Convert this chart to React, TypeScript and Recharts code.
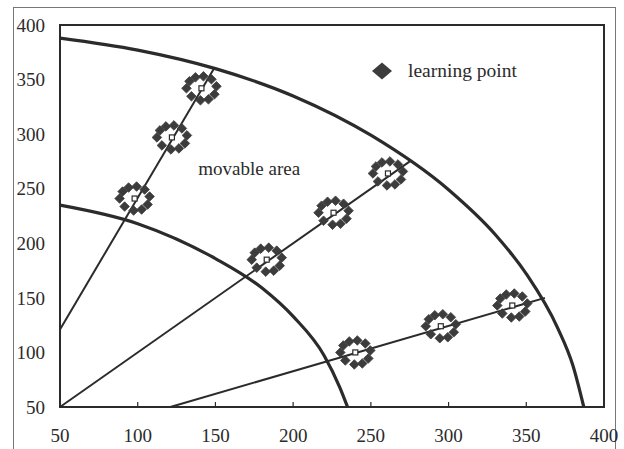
import { ComposedChart, Legend, Line, ReferenceArea, ReferenceDot, Scatter, XAxis, YAxis } from "recharts";

const ticks = [50, 100, 150, 200, 250, 300, 350, 400];

// boundary arcs of the movable area
const outerArc = [
  { x: 50, y: 388 },
  { x: 100, y: 377 },
  { x: 150, y: 360 },
  { x: 200, y: 335 },
  { x: 250, y: 299 },
  { x: 300, y: 249 },
  { x: 330, y: 208 },
  { x: 350, y: 172 },
  { x: 370, y: 123 },
  { x: 380, y: 88 },
  { x: 387, y: 50 }
];

const innerArc = [
  { x: 50, y: 235 },
  { x: 100, y: 218 },
  { x: 150, y: 186 },
  { x: 180, y: 159 },
  { x: 200, y: 133 },
  { x: 220, y: 97 },
  { x: 230, y: 68 },
  { x: 235, y: 50 }
];

const rayUpper = [
  { x: 50, y: 121 },
  { x: 149, y: 360 }
];
const rayMiddle = [
  { x: 50, y: 50 },
  { x: 276, y: 276 }
];
const rayLower = [
  { x: 121, y: 50 },
  { x: 362, y: 150 }
];

const learningPoints = [
  { x: 98, y: 241 },
  { x: 122, y: 297 },
  { x: 141, y: 342 },
  { x: 183, y: 185 },
  { x: 226, y: 228 },
  { x: 261, y: 264 },
  { x: 240, y: 100 },
  { x: 295, y: 124 },
  { x: 341, y: 143 }
];

const areaLabel = { x: 139, y: 263, text: "movable area" };

const ink = "#2b2b2b";
const font = "'Liberation Serif', 'Times New Roman', serif";

const ring = [
  [-15, 0],
  [-12, -7],
  [-6, -11],
  [2, -12],
  [10, -9],
  [15, -2],
  [13, 6],
  [7, 11],
  [-1, 12],
  [-10, 8]
];

function diamond(x: number, y: number, w: number, h: number) {
  return `M${x},${y - h}L${x + w},${y}L${x},${y + h}L${x - w},${y}Z`;
}

function LearningMarker(props: any) {
  const { cx, cy } = props;
  if (cx == null || cy == null) return null;
  return (
    <g>
      {ring.map(([dx, dy], i) => (
        <path key={i} d={diamond(cx + dx, cy + dy, 4.8, 4.8)} fill="#3c3c3c" stroke="#3c3c3c" strokeWidth={0.8} strokeLinejoin="round" />
      ))}
      <rect x={cx - 2.5} y={cy - 2.5} width={5} height={5} fill="#fff" stroke={ink} strokeWidth={1.2} />
    </g>
  );
}

function LegendContent() {
  return (
    <div style={{ display: "flex", alignItems: "center", fontFamily: font, fontSize: 19.5, color: ink }}>
      <svg width={22} height={18} style={{ marginRight: 15 }}>
        <path d={diamond(11, 9, 10, 8.5)} fill="#3c3c3c" />
      </svg>
      <span>learning point</span>
    </div>
  );
}

export default function App() {
  return (
    <div style={{ position: "absolute", left: 0, top: 0, width: 624, height: 449, background: "#fff" }}>
      <div
        style={{
          position: "absolute",
          left: 13,
          top: 7,
          width: 603,
          height: 442,
          borderLeft: "1px solid #777",
          borderTop: "1px solid #777",
          borderRight: "1px solid #777",
          boxSizing: "border-box"
        }}
      />
      <ComposedChart width={624} height={449} margin={{ top: 25, right: 20, bottom: 0, left: 0 }} style={{ position: "absolute", left: 0, top: 0 }}>
        <XAxis
          type="number"
          dataKey="x"
          domain={[50, 400]}
          ticks={ticks}
          height={42}
          axisLine={false}
          tickSize={-5}
          tickMargin={27}
          tickLine={{ stroke: ink, strokeWidth: 1.2 }}
          tick={{ fill: ink, fontSize: 19, fontFamily: font }}
        />
        <YAxis
          type="number"
          dataKey="y"
          domain={[50, 400]}
          ticks={ticks}
          width={60}
          axisLine={false}
          tickLine={false}
          tickSize={0}
          tickMargin={15}
          tick={{ fill: ink, fontSize: 19, fontFamily: font }}
        />
        <ReferenceArea x1={50} x2={400} y1={50} y2={400} fill="none" stroke={ink} strokeWidth={2} />
        <Line data={innerArc} dataKey="y" type="monotone" stroke={ink} strokeWidth={3.2} dot={false} activeDot={false} isAnimationActive={false} legendType="none" />
        <Line data={outerArc} dataKey="y" type="monotone" stroke={ink} strokeWidth={3.2} dot={false} activeDot={false} isAnimationActive={false} legendType="none" />
        <Line data={rayUpper} dataKey="y" type="linear" stroke={ink} strokeWidth={2} dot={false} activeDot={false} isAnimationActive={false} legendType="none" />
        <Line data={rayMiddle} dataKey="y" type="linear" stroke={ink} strokeWidth={2} dot={false} activeDot={false} isAnimationActive={false} legendType="none" />
        <Line data={rayLower} dataKey="y" type="linear" stroke={ink} strokeWidth={2} dot={false} activeDot={false} isAnimationActive={false} legendType="none" />
        <Scatter name="learning point" data={learningPoints} dataKey="y" shape={LearningMarker} isAnimationActive={false} />
        <ReferenceDot
          x={areaLabel.x}
          y={areaLabel.y}
          r={0}
          shape={(p: any) => (
            <text x={p.cx} y={p.cy} fill={ink} fontSize={19} fontFamily={font}>
              {areaLabel.text}
            </text>
          )}
        />
        <Legend
          layout="horizontal"
          verticalAlign="middle"
          align="center"
          content={<LegendContent />}
          wrapperStyle={{ left: 371, top: 60, width: "auto" }}
        />
      </ComposedChart>
    </div>
  );
}
